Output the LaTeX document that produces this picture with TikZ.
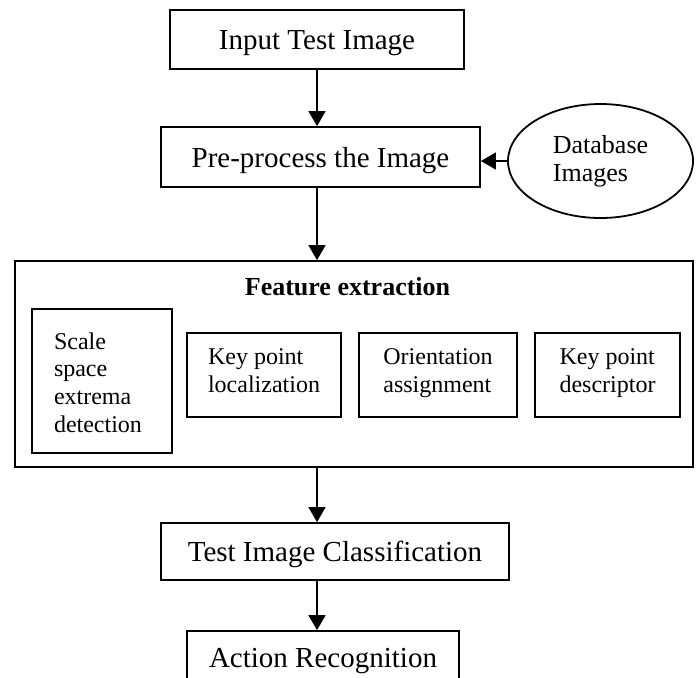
\documentclass[tikz,border=0pt]{standalone}
\usepackage{fontspec}
\setmainfont{Liberation Serif}
\usepackage{tikz}
\usetikzlibrary{positioning,arrows.meta,calc,shapes.geometric}

\begin{document}
\begin{tikzpicture}[
    x=0.5pt, y=-0.5pt,
    block/.style={draw, line width=0.9pt, inner sep=0pt, text depth=0pt, font=\fontsize{14.5}{17}\selectfont},
    subblock/.style={draw, line width=0.9pt, inner sep=0pt, align=left, font=\fontsize{12}{13.85}\selectfont},
    arrow/.style={-{Triangle[length=7.5pt,width=8.5pt]}, line width=0.8pt}
]
\useasboundingbox (0,0) rectangle (699,677);

\node[block, minimum width=147pt, minimum height=29.5pt] (input) at (317,39.5) {Input Test Image};
\node[block, minimum width=159.5pt, minimum height=30pt] (prep) at (320.5,157) {Pre-process the Image};
\node[draw, ellipse, line width=0.9pt, inner sep=0pt, minimum width=92.5pt, minimum height=57pt,
      align=left, text depth=3pt, font=\fontsize{13}{14}\selectfont] (db) at (600.5,161) {Database\\Images};

% feature extraction stage
\node[draw, line width=0.9pt, minimum width=339pt, minimum height=103pt] (feat) at (354,364) {};
\node[font=\fontsize{13}{15}\selectfont\bfseries, text depth=0pt, inner sep=0pt] (feattitle) at (347.5,286) {Feature extraction};
\node[subblock, minimum width=70pt, minimum height=72pt, text width=48pt, inner xsep=11pt, text depth=40.2pt] (scale) at (102,381) {Scale\\space\\extrema\\detection};
\node[subblock, minimum width=77pt, minimum height=42pt, text depth=4.4pt] (kploc) at (264,375) {Key point\\localization};
\node[subblock, minimum width=79pt, minimum height=42pt, text depth=4.4pt] (orient) at (438,375) {Orientation\\assignment};
\node[subblock, minimum width=72.5pt, minimum height=42pt, text depth=4.4pt] (kpdesc) at (607.5,375) {Key point\\descriptor};

\node[block, minimum width=174pt, minimum height=28.5pt] (classify) at (335,551.5) {Test Image Classification};
\node[block, minimum width=136pt, minimum height=27pt] (action) at (323,658) {Action Recognition};

\draw[arrow] (input.south) -- (input.south |- prep.north);
\draw[arrow] (input.south |- prep.south) -- (input.south |- feat.north);
\draw[arrow] (db.west) -- (db.west -| prep.east);
\draw[arrow] (input.south |- feat.south) -- (input.south |- classify.north);
\draw[arrow] (input.south |- classify.south) -- (input.south |- action.north);
\end{tikzpicture}
\end{document}
